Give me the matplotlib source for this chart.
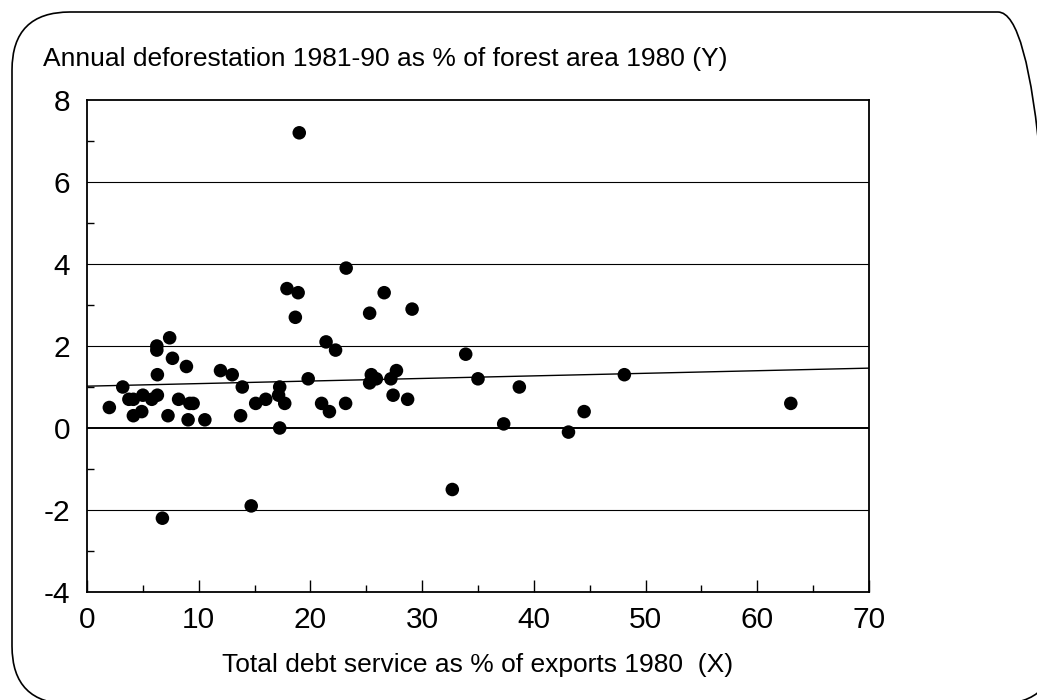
import matplotlib
matplotlib.use("Agg")
import matplotlib.pyplot as plt
from matplotlib.patches import FancyBboxPatch
from matplotlib.ticker import MultipleLocator

plt.rcParams['font.family'] = ['Liberation Sans', 'DejaVu Sans']
plt.rcParams['axes.unicode_minus'] = False

# Data
debt_service_x = [2.0, 3.2, 3.75, 4.15, 5.0, 4.15, 4.9, 5.8, 6.3, 6.25, 6.25, 6.3,
                  7.4, 7.65, 7.25, 8.2, 8.9, 9.05, 9.2, 9.5, 10.55, 6.75, 11.95,
                  13.0, 13.9, 13.75, 15.1, 16.0, 17.25, 17.15, 17.7, 17.25, 14.7,
                  17.9, 18.9, 18.65, 19.8, 19.0, 23.2, 21.4, 22.25, 21.0, 21.7,
                  23.15, 25.3, 26.6, 29.1, 25.45, 25.3, 25.9, 27.7, 27.2, 27.4,
                  28.7, 33.9, 35.0, 38.7, 37.3, 43.1, 44.5, 48.1, 63.0, 32.7]
deforestation_y = [0.5, 1.0, 0.7, 0.7, 0.8, 0.3, 0.4, 0.7, 0.8, 2.0, 1.9, 1.3,
                   2.2, 1.7, 0.3, 0.7, 1.5, 0.2, 0.6, 0.6, 0.2, -2.2, 1.4,
                   1.3, 1.0, 0.3, 0.6, 0.7, 1.0, 0.8, 0.6, 0.0, -1.9,
                   3.4, 3.3, 2.7, 1.2, 7.2, 3.9, 2.1, 1.9, 0.6, 0.4,
                   0.6, 2.8, 3.3, 2.9, 1.3, 1.1, 1.2, 1.4, 1.2, 0.8,
                   0.7, 1.8, 1.2, 1.0, 0.1, -0.1, 0.4, 1.3, 0.6, -1.5]
fit_x = [0, 70]
fit_y = [1.02, 1.46]
grid_levels = [-2, 2, 4, 6]
zero_level = 0
x_ticks = [0, 10, 20, 30, 40, 50, 60, 70]
y_ticks = [-4, -2, 0, 2, 4, 6, 8]
title_text = "Annual deforestation 1981-90 as % of forest area 1980 (Y)"
xlabel_text = "Total debt service as % of exports 1980  (X)"

fig = plt.figure(figsize=(10.37, 7.0), dpi=100)
fig.patch.set_facecolor('white')

# Rounded frame around the whole figure (right and bottom edges run off the page)
frame = FancyBboxPatch((0.12, -0.04), 10.44, 6.92,
                       boxstyle="round,pad=0,rounding_size=0.58",
                       transform=fig.dpi_scale_trans, fill=False,
                       edgecolor='black', linewidth=1.2, clip_on=False)
fig.add_artist(frame)

ax = fig.add_axes([87/1037, 1-592/700, (869-87)/1037, (592-100)/700])
ax.set_xlim(0, 70)
ax.set_ylim(-4, 8)

for lv in grid_levels:
    ax.axhline(lv, color='black', linewidth=0.8, zorder=1)
ax.axhline(zero_level, color='black', linewidth=1.4, zorder=1)

ax.plot(fit_x, fit_y, color='black', linewidth=1.0, zorder=2)
ax.scatter(debt_service_x, deforestation_y, s=95, color='black',
           edgecolors='none', zorder=3)

ax.set_xticks(x_ticks)
ax.set_yticks(y_ticks)
ax.xaxis.set_minor_locator(MultipleLocator(5))
ax.yaxis.set_minor_locator(MultipleLocator(1))
ax.tick_params(axis='both', which='both', direction='in', top=False, right=False,
               labelsize=21.5, color='black', width=1.0)
ax.tick_params(axis='x', which='major', length=9, pad=10)
ax.tick_params(axis='x', which='minor', length=5)
ax.tick_params(axis='y', which='major', length=0, pad=12)
ax.tick_params(axis='y', which='minor', length=5)
for sp in ax.spines.values():
    sp.set_linewidth(1.3)
    sp.set_color('black')

fig.text(43/1037, 1-66/700, title_text, fontsize=19, ha='left', va='baseline')
fig.text((87+869)/2/1037, 1-672/700, xlabel_text, fontsize=19,
         ha='center', va='baseline')

fig.savefig("out.png", dpi=100, facecolor='white')
